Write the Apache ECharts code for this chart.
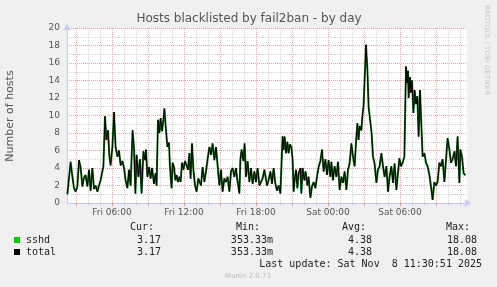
<!DOCTYPE html>
<html><head><meta charset="utf-8">
<script src="https://cdn.jsdelivr.net/npm/echarts@6/dist/echarts.min.js"></script>
<style>html,body{margin:0;padding:0;background:#f0f0f0}#c{width:497px;height:287px}</style>
</head><body><div id="c"></div><script>
const titleText = 'Hosts blacklisted by fail2ban - by day';
const yAxisName = 'Number of hosts';
const xTickLabels = ['Fri 06:00', 'Fri 12:00', 'Fri 18:00', 'Sat 00:00', 'Sat 06:00'];
const seriesNames = ['sshd', 'total'];
const statHeaders = ['Cur:', 'Min:', 'Avg:', 'Max:'];
const sshdStats = ['3.17', '353.33m', '4.38', '18.08'];
const totalStats = ['3.17', '353.33m', '4.38', '18.08'];
const lastUpdate = 'Last update: Sat Nov  8 11:30:51 2025';
const footerText = 'Munin 2.0.73';
const sideText = 'RRDTOOL / TOBI OETIKER';
// minutes since Fri 00:00
const sampleMinutes = [137,153,162,170,178,187,195,203,212,220,228,237,245,253,262,270,278,287,295,303,312,317,325,332,340,347,353,362,370,378,387,395,403,412,420,428,437,445,453,
463,470,477,483,492,500,508,517,525,530,537,545,553,560,570,578,583,590,597,603,610,617,622,628,637,645,650,658,663,670,677,683,690,697,703,710,717,725,733,740,747,753,760,767,775,783,792,
805,813,822,830,838,847,855,863,872,880,888,897,905,913,922,930,938,947,955,963,972,980,988,997,1002,1008,1017,1023,1030,1038,1047,1055,1063,1072,1080,1088,1097,1105,1113,1122,
1135,1143,1152,1160,1168,1177,1185,1193,1202,1207,1213,1218,1223,1230,1237,1243,1250,1257,1263,1268,1273,1280,1287,1293,1302,1307,1313,1322,1328,1337,1343,1352,1360,1368,1377,1385,1393,1402,1410,1418,1427,1435,1443,1452,
1457,1465,1473,1482,1490,1498,1507,1515,1523,1532,1540,1548,1557,1565,1573,1582,1587,1593,1598,1607,1612,1618,1623,1630,1637,1643,1652,1658,1665,1673,1682,1690,1698,1707,1715,1723,1732,1740,1748,1757,1765,1773,1782,
1788,1797,1805,1813,1822,1830,1835,1840,1843,1850,1855,1860,1867,1873,1880,1887,1893,1900,1907,1913,1922,1930,1938,1947,1955,1963,1972,1980,1988,1997,2005,2013,2022,2030,2038,2047,2055,2063,2072,2080,2088,2097,2102,2110,2118,2127];
const sshdValues = [1.0,4.7,3.0,1.7,1.3,1.9,4.9,4.1,1.9,2.9,3.2,1.9,3.8,1.4,4.0,1.6,2.0,1.3,2.0,2.6,2.8,4.2,9.9,7.2,8.3,5.3,4.3,6.4,10.4,6.4,5.3,6.0,4.3,4.8,4.0,2.6,1.7,3.8,2.0,
8.3,6.3,1.1,5.5,3.0,5.0,1.1,5.9,4.9,6.1,3.0,4.1,2.8,4.0,2.2,3.4,2.0,9.5,8.0,9.7,8.2,9.5,10.8,8.9,6.4,6.9,4.0,1.7,4.6,4.1,2.6,3.2,2.4,3.0,2.4,4.6,3.8,4.8,4.9,3.8,5.7,2.8,6.8,3.8,2.0,1.3,2.8,
2.0,4.1,2.4,3.6,5.0,6.4,5.5,6.8,4.9,6.4,4.3,2.0,3.8,1.3,2.8,2.4,3.0,1.3,3.6,4.0,3.0,4.0,2.4,1.1,5.0,6.1,4.8,6.8,3.0,4.8,2.4,4.0,2.2,3.6,2.4,4.0,2.0,2.0,2.8,3.8,
2.0,2.6,3.6,2.2,4.0,2.2,1.4,2.0,1.1,4.1,7.6,6.1,7.6,5.7,7.0,5.7,6.7,6.4,5.0,1.3,2.6,3.8,1.7,3.4,4.0,1.1,4.0,2.6,3.6,2.0,3.0,0.6,1.9,2.4,1.7,3.0,4.1,4.8,6.1,3.6,5.0,3.2,4.9,3.0,
4.7,2.6,4.2,3.0,4.7,1.5,3.0,2.3,3.6,1.5,3.8,4.5,6.8,5.3,4.2,7.6,9.1,7.2,8.8,8.3,9.9,11.2,14.1,18.08,15.2,11.0,10.8,8.0,5.3,4.5,2.3,3.8,4.2,5.7,4.2,3.0,4.2,1.3,3.0,4.2,2.3,4.5,1.5,
1.7,5.1,4.2,4.6,5.3,15.6,13.7,15.1,12.0,14.4,12.6,14.0,10.3,12.9,11.3,12.2,7.6,12.9,8.8,5.3,5.7,4.6,4.2,3.2,1.9,0.35,2.4,2.0,2.4,4.6,4.2,5.0,2.4,2.2,7.4,6.1,4.6,5.0,5.9,4.2,7.6,2.3,6.1,5.3,3.4,3.17];
const totalValues = sshdValues.slice();

const xMin = 135, xMax = 2135, stepMin = 5;
const cats = [];
for (let m = xMin; m <= xMax; m += stepMin) cats.push(String(m));

const chart = echarts.init(document.getElementById('c'), null, {renderer: 'canvas'});
const sans = 'DejaVu Sans';
const mono = '10px "DejaVu Sans Mono"';
const legendY = [240, 252];
const legendColors = ['#00cc00', '#000000'];
const statRight = [161, 273, 372, 477];
const headRight = [154, 260, 366, 470];

const graphics = [
  {type: 'text', x: 249, y: 19, style: {text: titleText, font: '12px "DejaVu Sans"', fill: '#555', textAlign: 'center', textVerticalAlign: 'middle'}},
  {type: 'text', x: 10, y: 116, rotation: Math.PI / 2, style: {text: yAxisName, font: '11px "DejaVu Sans"', fill: '#555', textAlign: 'center', textVerticalAlign: 'middle'}},
  {type: 'text', x: 487, y: 5, rotation: -Math.PI / 2, style: {text: sideText, font: '7px "DejaVu Sans"', fill: '#c8c8c8', textAlign: 'left', textVerticalAlign: 'middle'}},
  {type: 'text', x: 482, y: 264, style: {text: lastUpdate, font: mono, fill: '#222', textAlign: 'right', textVerticalAlign: 'middle'}},
  {type: 'text', x: 248, y: 276, style: {text: footerText, font: '7px "DejaVu Sans"', fill: '#bbb', textAlign: 'center', textVerticalAlign: 'middle'}}
];
statHeaders.forEach((h, i) => graphics.push({type: 'text', x: headRight[i], y: 227, style: {text: h, font: mono, fill: '#222', textAlign: 'right', textVerticalAlign: 'middle'}}));
[sshdStats, totalStats].forEach((row, r) => {
  graphics.push({type: 'rect', shape: {x: 14, y: legendY[r] - 3, width: 6, height: 6}, style: {fill: legendColors[r]}});
  graphics.push({type: 'text', x: 26, y: legendY[r], style: {text: seriesNames[r], font: mono, fill: '#222', textAlign: 'left', textVerticalAlign: 'middle'}});
  row.forEach((v, i) => graphics.push({type: 'text', x: statRight[i], y: legendY[r], style: {text: v, font: mono, fill: '#222', textAlign: 'right', textVerticalAlign: 'middle'}}));
});

const catAxisBase = {type: 'category', data: cats, boundaryGap: false, position: 'bottom', gridIndex: 0};
const dotted = [1, 1];

chart.setOption({
  animation: false,
  backgroundColor: '#f0f0f0',
  grid: {left: 67, top: 28, width: 400, height: 175, show: true, backgroundColor: '#ffffff', borderWidth: 0},
  xAxis: [
    {type: 'value', min: xMin, max: xMax, show: false},
    Object.assign({}, catAxisBase, {
      axisLine: {show: false},
      axisLabel: {show: false},
      axisTick: {show: true, interval: (i, v) => Number(v) % 60 === 0, length: 2, lineStyle: {color: '#c0c0c0'}},
      splitLine: {show: true, interval: (i, v) => Number(v) % 60 === 0, lineStyle: {color: '#d4d4d4', type: dotted, width: 1}}
    }),
    Object.assign({}, catAxisBase, {
      axisLine: {show: true, lineStyle: {color: '#c8c8f4', width: 1}, symbol: ['none', 'arrow'], symbolSize: [6, 7], symbolOffset: [0, 4]},
      axisLabel: {show: true, interval: (i, v) => Number(v) % 360 === 0, formatter: v => xTickLabels[Number(v) / 360 - 1] || '', fontFamily: sans, fontSize: 9, color: '#555', margin: 5},
      axisTick: {show: true, interval: (i, v) => Number(v) % 180 === 0, length: 3, lineStyle: {color: '#e0a0a0'}},
      splitLine: {show: true, interval: (i, v) => Number(v) % 180 === 0, lineStyle: {color: '#e4a4a4', type: dotted, width: 1}}
    })
  ],
  yAxis: {
    type: 'value', min: 0, max: 20, interval: 2,
    axisLine: {show: true, lineStyle: {color: '#c8c8f4', width: 1}, symbol: ['none', 'arrow'], symbolSize: [6, 7], symbolOffset: [0, 4]},
    axisTick: {show: false},
    axisLabel: {fontFamily: sans, fontSize: 9, color: '#555', margin: 7},
    splitLine: {show: true, lineStyle: {color: '#e4a4a4', type: dotted, width: 1}},
    minorTick: {show: false, splitNumber: 2},
    minorSplitLine: {show: true, lineStyle: {color: '#d4d4d4', type: dotted, width: 1}}
  },
  series: [
    {name: seriesNames[0], type: 'line', xAxisIndex: 0, showSymbol: false, data: sampleMinutes.map((t, i) => [t, sshdValues[i]]), lineStyle: {color: '#1f7a1f', width: 2}, itemStyle: {color: '#00cc00'}, z: 3},
    {name: seriesNames[1], type: 'line', xAxisIndex: 0, showSymbol: false, data: sampleMinutes.map((t, i) => [t, totalValues[i]]), lineStyle: {color: '#000000', width: 1}, itemStyle: {color: '#000'}, z: 4}
  ],
  graphic: graphics
});
</script></body></html>
